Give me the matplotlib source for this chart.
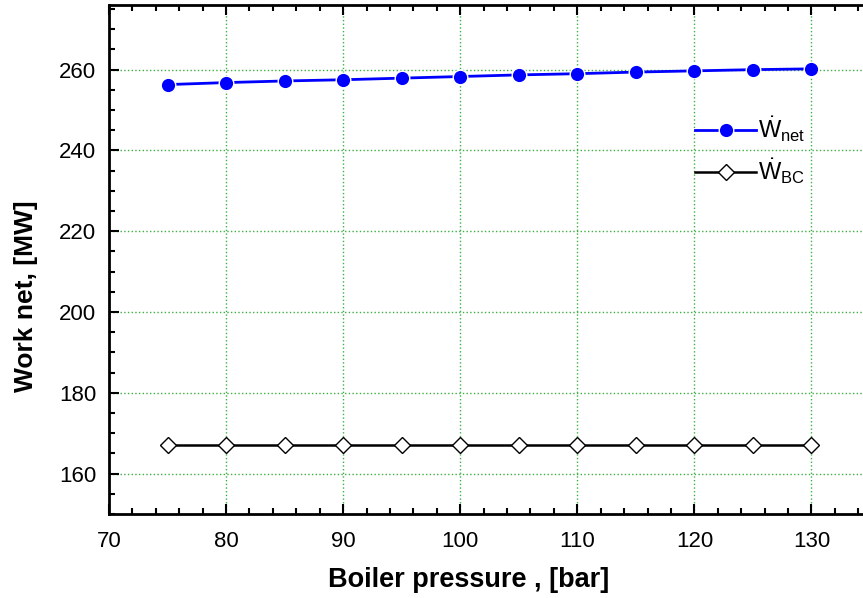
import numpy as np
import matplotlib.pyplot as plt
from matplotlib.ticker import MultipleLocator

plt.rcParams['font.family'] = ['Liberation Sans', 'DejaVu Sans']
plt.rcParams['mathtext.fontset'] = 'custom'
plt.rcParams['mathtext.rm'] = 'Liberation Sans'
plt.rcParams['mathtext.it'] = 'Liberation Sans'

# boiler pressure [bar]
pressure = [75, 80, 85, 90, 95, 100, 105, 110, 115, 120, 125, 130]
# net work [MW]
w_net = [256.3, 256.8, 257.2, 257.5, 257.9, 258.3, 258.7, 259.0, 259.4, 259.7, 260.0, 260.2]
# compressor work [MW]
w_bc = [167.2] * 12

fig = plt.figure(figsize=(8.63, 5.98), dpi=100)
ax = fig.add_axes([0.1263, 0.1405, 0.8737, 0.8511])

ax.plot(pressure, w_net, '-o', color='blue', lw=2, ms=10.5, mfc='blue',
        mec='white', mew=1, label=r'$\dot{\mathrm{W}}_{\mathrm{net}}$')
ax.plot(pressure, w_bc, '-D', color='black', lw=1.8, ms=8, mfc='white',
        mec='black', mew=1, label=r'$\dot{\mathrm{W}}_{\mathrm{BC}}$')

ax.set_xlim(70, 134.4)
ax.set_ylim(150, 276)
ax.xaxis.set_major_locator(MultipleLocator(10))
ax.xaxis.set_minor_locator(MultipleLocator(2))
ax.yaxis.set_major_locator(MultipleLocator(20))
ax.yaxis.set_minor_locator(MultipleLocator(5))
ax.set_yticks(np.arange(160, 261, 20))

ax.tick_params(which='both', direction='in', top=True, right=False, width=1.5)
ax.tick_params(which='major', length=7, labelsize=16)
ax.tick_params(axis='x', which='major', pad=12)
ax.tick_params(axis='y', which='major', pad=9)
ax.tick_params(which='minor', length=4)
ax.spines['right'].set_visible(False)
for s in ['left', 'bottom', 'top']:
    ax.spines[s].set_linewidth(2)

ax.grid(True, which='major', color='#3cb043', ls=':', lw=1)
ax.set_axisbelow(True)

ax.set_xlabel('Boiler pressure , [bar]', fontsize=19.5, fontweight='bold')
ax.xaxis.set_label_coords(0.477, -0.105)
ax.set_ylabel('Work net, [MW]', fontsize=19, fontweight='bold')
ax.yaxis.set_label_coords(-0.094, 0.428)

ax.legend(loc='upper left', bbox_to_anchor=(0.749, 0.827), frameon=False,
          fontsize=17, handlelength=2.6, handletextpad=0.05, labelspacing=0.55)

fig.savefig('out.png', dpi=100)
